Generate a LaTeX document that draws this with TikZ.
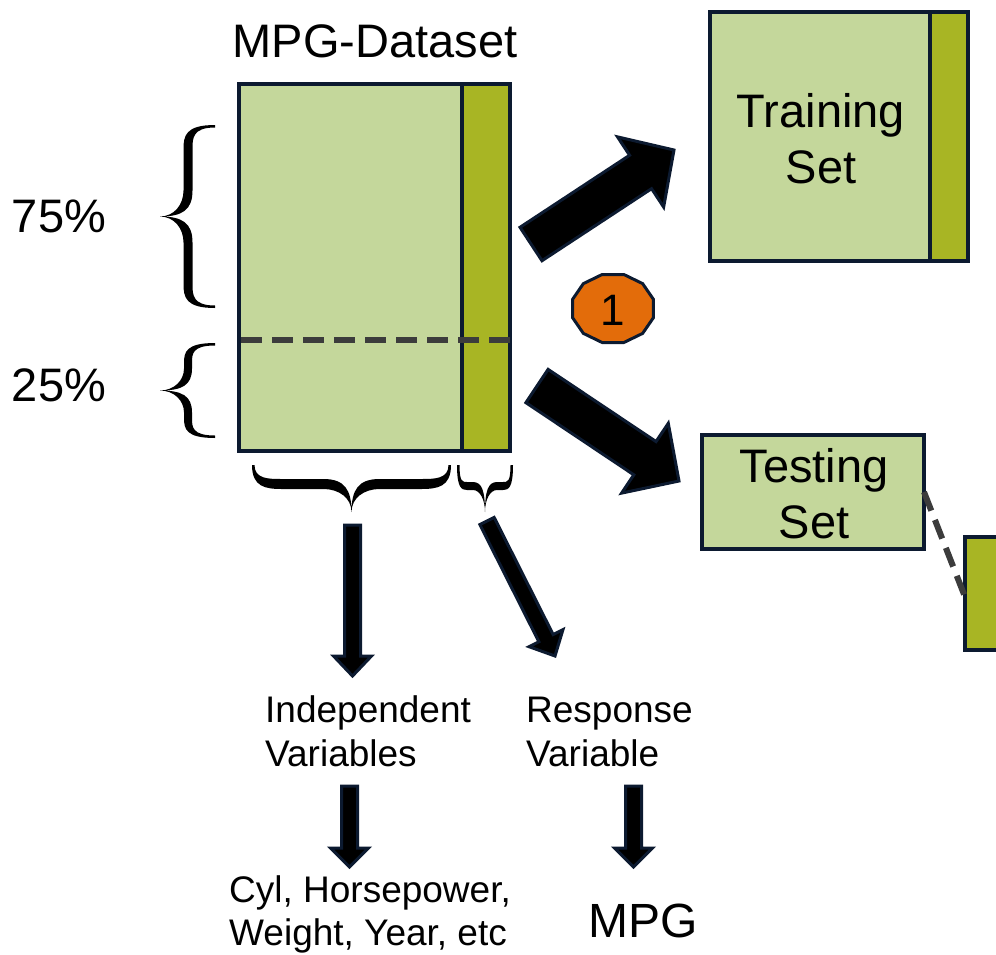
\documentclass[tikz,border=0pt]{standalone}
\usepackage{fontspec}
\setmainfont{Liberation Sans}
\usetikzlibrary{calc}
\definecolor{lg}{RGB}{196,215,155}
\definecolor{ol}{RGB}{168,181,36}
\definecolor{nv}{RGB}{12,26,48}
\definecolor{dg}{RGB}{60,60,60}
\definecolor{orng}{RGB}{227,108,10}
\tikzset{
  box/.style={draw=nv, line width=4pt, inner sep=0pt, outer sep=0pt, anchor=north west},
  blk/.style={fill=black, draw=nv, line width=3pt, line join=miter},
  dashln/.style={draw=dg, line width=6pt, dash pattern=on 21pt off 10pt},
  bigtxt/.style={font=\fontsize{47}{56}\selectfont, inner sep=0pt},
  midtxt/.style={font=\fontsize{37}{44}\selectfont, inner sep=0pt, align=left, anchor=base west},
  bracecol/.style={fill=black}
}
% block arrow: #1 tail, #2 tip, #3 half shaft, #4 half head, #5 head length
\newcommand\blockarr[5]{%
  \path ($(#2)!#5!(#1)$) coordinate (bah);
  \draw[blk] ($(#1)!#3!90:(#2)$) -- ($(bah)!#3!90:(#2)$) -- ($(bah)!#4!90:(#2)$) -- (#2)
    -- ($(bah)!#4!-90:(#2)$) -- ($(bah)!#3!-90:(#2)$) -- ($(#1)!#3!-90:(#2)$) -- cycle;}
% vertical left brace: E end x, S stem x, P tip x, T top, B bottom, w half stem, q hook, r mid
\newcommand\vbrace[8]{%
 \pgfmathsetmacro\bM{(#4+#5)/2}
 \fill[bracecol] (#1,#4)
  .. controls ({#2-#6+2},#4) and ({#2-#6},{#4+0.45*#7}) .. ({#2-#6},{#4+#7})
  -- ({#2-#6},{\bM-#8})
  .. controls ({#2-#6},{\bM-0.45*#8}) and ({#3+0.5*(#2-#3)},\bM) .. (#3,\bM)
  .. controls ({#3+0.5*(#2-#3)},\bM) and ({#2-#6},{\bM+0.45*#8}) .. ({#2-#6},{\bM+#8})
  -- ({#2-#6},{#5-#7})
  .. controls ({#2-#6},{#5-0.45*#7}) and ({#2-#6+2},#5) .. (#1,#5)
  -- (#1,{#5-2.5})
  .. controls ({#2+#6},{#5-2.5}) and ({#2+#6},{#5-0.55*#7}) .. ({#2+#6},{#5-#7})
  -- ({#2+#6},{\bM+#8})
  .. controls ({#2+#6},{\bM+0.25*#8}) and ({#3+0.8*(#2-#3)},\bM) .. (#3,\bM)
  .. controls ({#3+0.8*(#2-#3)},\bM) and ({#2+#6},{\bM-0.25*#8}) .. ({#2+#6},{\bM-#8})
  -- ({#2+#6},{#4+#7})
  .. controls ({#2+#6},{#4+0.55*#7}) and ({#2+#6},{#4+2.5}) .. (#1,{#4+2.5})
  -- cycle;}
% horizontal brace, tip down: L, R, E end y, S stem y, P tip y, w, q, r
\newcommand\hbrace[8]{%
 \pgfmathsetmacro\bM{(#1+#2)/2}
 \fill[bracecol] (#1,#3)
  .. controls (#1,{#4+#6-2}) and ({#1+0.45*#7},{#4+#6}) .. ({#1+#7},{#4+#6})
  -- ({\bM-#8},{#4+#6})
  .. controls ({\bM-0.45*#8},{#4+#6}) and (\bM,{#5-0.5*(#5-#4)}) .. (\bM,#5)
  .. controls (\bM,{#5-0.5*(#5-#4)}) and ({\bM+0.45*#8},{#4+#6}) .. ({\bM+#8},{#4+#6})
  -- ({#2-#7},{#4+#6})
  .. controls ({#2-0.45*#7},{#4+#6}) and (#2,{#4+#6-2}) .. (#2,#3)
  -- ({#2-2.5},#3)
  .. controls ({#2-2.5},{#4-#6}) and ({#2-0.55*#7},{#4-#6}) .. ({#2-#7},{#4-#6})
  -- ({\bM+#8},{#4-#6})
  .. controls ({\bM+0.25*#8},{#4-#6}) and (\bM,{#5-0.8*(#5-#4)}) .. (\bM,#5)
  .. controls (\bM,{#5-0.8*(#5-#4)}) and ({\bM-0.25*#8},{#4-#6}) .. ({\bM-#8},{#4-#6})
  -- ({#1+#7},{#4-#6})
  .. controls ({#1+0.55*#7},{#4-#6}) and ({#1+2.5},{#4-#6}) .. ({#1+2.5},#3)
  -- cycle;}
\begin{document}
\begin{tikzpicture}[x=1pt,y=-1pt]
\useasboundingbox (0,0) rectangle (996,954);
\clip (0,0) rectangle (996,954);

% dataset
\node[box, fill=lg, minimum width=271pt, minimum height=367pt] (ds) at (239,84) {};
\node[box, fill=ol, minimum width=48pt, minimum height=367pt] (dscol) at (462,84) {};
\coordinate (dl) at (241,340);
\coordinate (dr) at (510,340);
\draw[dashln] (dl) -- (dr);
\node[bigtxt, anchor=base] (title) at (375,57) {MPG-Dataset};

% percentages
\node[bigtxt, anchor=base] (p75) at (59,232) {75\%};
\node[bigtxt, anchor=base] (p25) at (59,401) {25\%};
\vbrace{215}{188}{160}{125}{308}{4.5}{24}{26}
\vbrace{215}{188}{160}{343}{438}{4}{20}{22}

% bottom braces
\hbrace{252}{451}{465}{484}{512}{5}{30}{28}
\hbrace{457}{513}{465}{486}{512}{4}{10}{12}

% training set
\node[box, fill=lg, minimum width=258pt, minimum height=249pt] (train) at (710,12) {};
\node[box, fill=ol, minimum width=38pt, minimum height=249pt] (traincol) at (930,12) {};
\node[bigtxt, anchor=base, align=center] (traintxt) at (821,183) {Training\\Set};

% testing set
\node[box, fill=lg, minimum width=222pt, minimum height=114pt] (test) at (702,435) {};
\node[bigtxt, anchor=base, align=center] (testtxt) at (814,538) {Testing\\Set};
\node[box, fill=ol, minimum width=50pt, minimum height=113pt] (cut) at (965,537) {};
\draw[dashln, dash pattern=on 20pt off 10pt] (test.east) -- ($(cut.north west)!0.53!(cut.south west)$);

% split arrows
\coordinate (a1t) at (531,244);
\coordinate (a1h) at (674,150);
\blockarr{a1t}{a1h}{20pt}{42pt}{40pt}
\coordinate (a2t) at (537,386);
\coordinate (a2h) at (679,481);
\blockarr{a2t}{a2h}{20pt}{42pt}{41pt}

% step marker
\path[draw=nv, line width=3pt, fill=orng]
  (613,308.5) ++(15:41.9 and 35.2) \foreach \k in {1,...,11} { -- ($(613,308.5)+({15+30*\k}:41.9 and 35.2)$) } -- cycle;
\node[font=\fontsize{44}{50}\selectfont, inner sep=0pt] (one) at (613,310) {1};

% variables
\coordinate (d1t) at (352.5,525);
\coordinate (d1h) at (352.5,676);
\blockarr{d1t}{d1h}{8pt}{19pt}{20pt}
\coordinate (d4t) at (487,521);
\coordinate (d4h) at (555,656);
\blockarr{d4t}{d4h}{8pt}{19pt}{20pt}

\node[midtxt] (indep) at (265,766) {Independent\\Variables};
\node[midtxt] (resp) at (526,766) {Response\\Variable};

\coordinate (d2t) at (349.5,786);
\coordinate (d2h) at (349.5,867);
\blockarr{d2t}{d2h}{8pt}{19pt}{19pt}
\coordinate (d3t) at (633.5,786);
\coordinate (d3h) at (633.5,867);
\blockarr{d3t}{d3h}{8pt}{19pt}{19pt}

\node[midtxt, font=\fontsize{37}{43}\selectfont] (feat) at (229,945) {Cyl, Horsepower,\\Weight, Year, etc};
\node[font=\fontsize{48}{56}\selectfont, inner sep=0pt, anchor=base] (mpg) at (643,937) {MPG};
\end{tikzpicture}
\end{document}
